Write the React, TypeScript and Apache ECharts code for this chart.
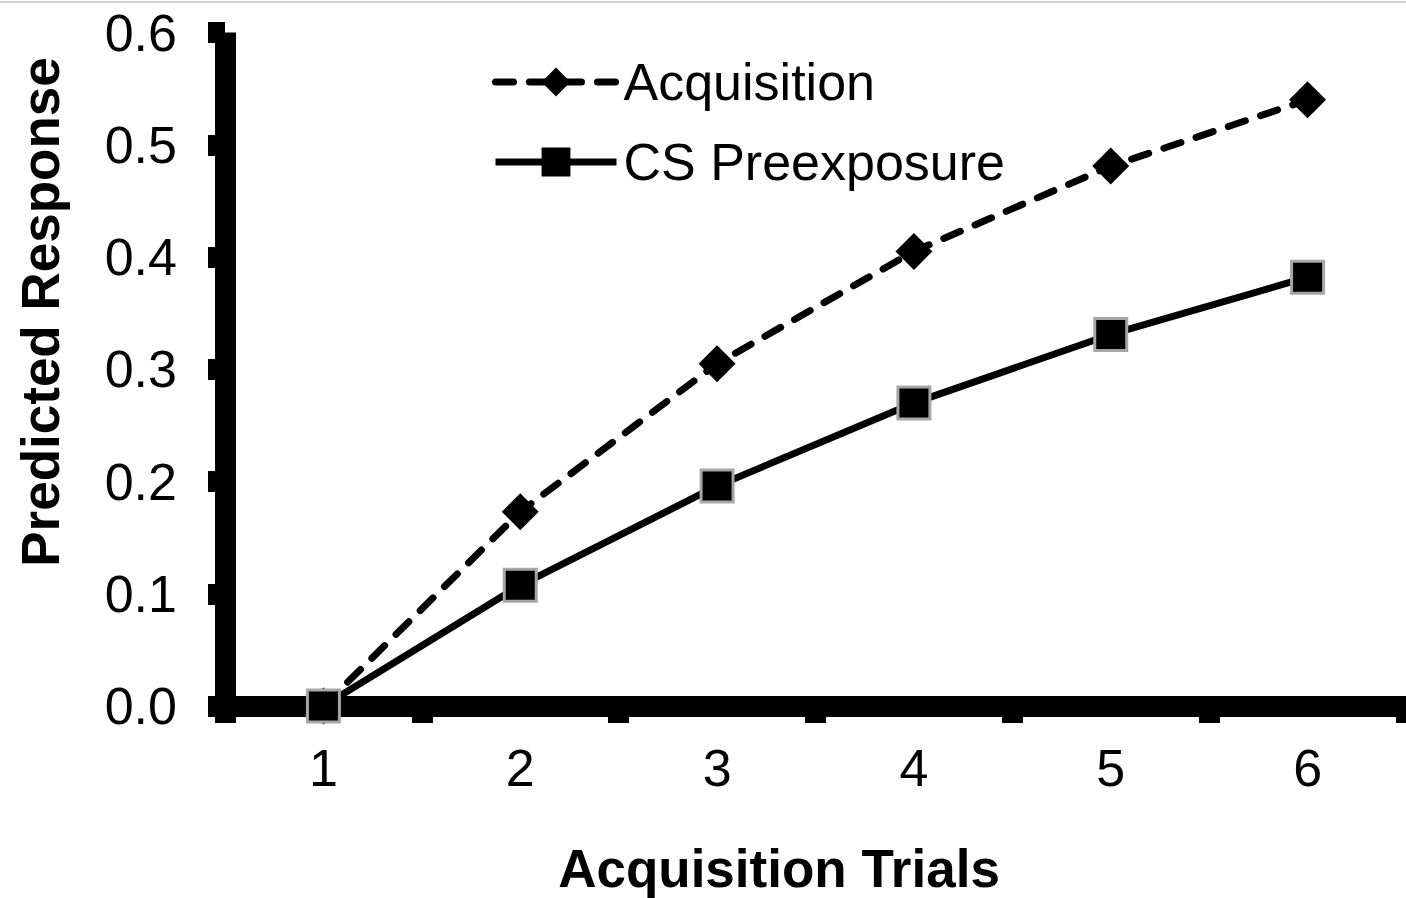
import React, { useEffect, useRef } from 'react';
import * as echarts from 'echarts';

const trials = ['1', '2', '3', '4', '5', '6'];
const acquisition = [0, 0.173, 0.305, 0.405, 0.481, 0.54];
const csPreexposure = [0, 0.1075, 0.196, 0.27, 0.331, 0.382];
const yMin = 0;
const yMax = 0.6;
const yInterval = 0.1;
const seriesNames = ['Acquisition', 'CS Preexposure'];
const xTitle = 'Acquisition Trials';
const yTitle = 'Predicted Response';

const FONT = '"Liberation Sans", Arial, Helvetica, sans-serif';

export default function App() {
  const ref = useRef<HTMLDivElement>(null);
  useEffect(() => {
    if (!ref.current) return;
    const chart = echarts.init(ref.current, undefined, { renderer: 'svg' });
    chart.setOption({
      animation: false,
      backgroundColor: '#ffffff',
      grid: { left: 225, right: 0, top: 32.5, bottom: 192, containLabel: false },
      xAxis: {
        type: 'category',
        data: trials,
        boundaryGap: true,
        axisLine: { show: true, lineStyle: { color: '#000', width: 21 } },
        axisTick: { show: true, length: 17, alignWithLabel: false, lineStyle: { color: '#000', width: 21 } },
        axisLabel: { color: '#000', fontSize: 52, fontFamily: FONT, margin: 36 },
        splitLine: { show: false },
      },
      yAxis: {
        type: 'value',
        min: yMin,
        max: yMax,
        interval: yInterval,
        axisLine: { show: true, lineStyle: { color: '#000', width: 21, cap: 'butt' } },
        axisTick: { show: true, length: 17, lineStyle: { color: '#000', width: 21 } },
        axisLabel: {
          color: '#000',
          fontSize: 52,
          fontFamily: FONT,
          margin: 48,
          formatter: (v: number) => v.toFixed(1),
        },
        splitLine: { show: false },
      },
      legend: {
        orient: 'vertical',
        left: 492,
        top: 56,
        padding: 0,
        itemGap: 28,
        itemWidth: 121,
        itemHeight: 36,
        itemStyle: { borderWidth: 0 },
        lineStyle: { width: 7 },
        textStyle: { color: '#000', fontSize: 52, fontFamily: FONT, padding: [0, 0, 0, 2] },
        data: seriesNames,
      },
      graphic: [
        {
          type: 'rect',
          silent: true,
          shape: { x: 0, y: 1, width: 1406, height: 2 },
          style: { fill: '#d0d0d0' },
        },
        {
          type: 'text',
          x: 779,
          y: 868,
          style: {
            text: xTitle,
            fontSize: 53,
            fontWeight: 'bold',
            fontFamily: FONT,
            fill: '#000',
            align: 'center',
            verticalAlign: 'middle',
          },
        },
        {
          type: 'text',
          x: 40,
          y: 312,
          rotation: Math.PI / 2,
          style: {
            text: yTitle,
            fontSize: 53,
            fontWeight: 'bold',
            fontFamily: FONT,
            fill: '#000',
            align: 'center',
            verticalAlign: 'middle',
          },
        },
      ],
      series: [
        {
          name: seriesNames[0],
          type: 'line',
          data: acquisition,
          clip: false,
          symbol: 'diamond',
          symbolSize: 37,
          itemStyle: { color: '#000', borderWidth: 0 },
          lineStyle: { color: '#000', width: 7, type: [18, 16], cap: 'round' },
          z: 3,
        },
        {
          name: seriesNames[1],
          type: 'line',
          data: csPreexposure,
          clip: false,
          symbol: 'rect',
          symbolSize: 32,
          itemStyle: { color: '#000', borderColor: '#a6a6a6', borderWidth: 3 },
          lineStyle: { color: '#000', width: 7, type: 'solid' },
          z: 4,
        },
      ],
    });
    return () => chart.dispose();
  }, []);
  return (
    <div
      ref={ref}
      style={{ position: 'absolute', left: 0, top: 0, width: 1406, height: 898, background: '#fff' }}
    />
  );
}
